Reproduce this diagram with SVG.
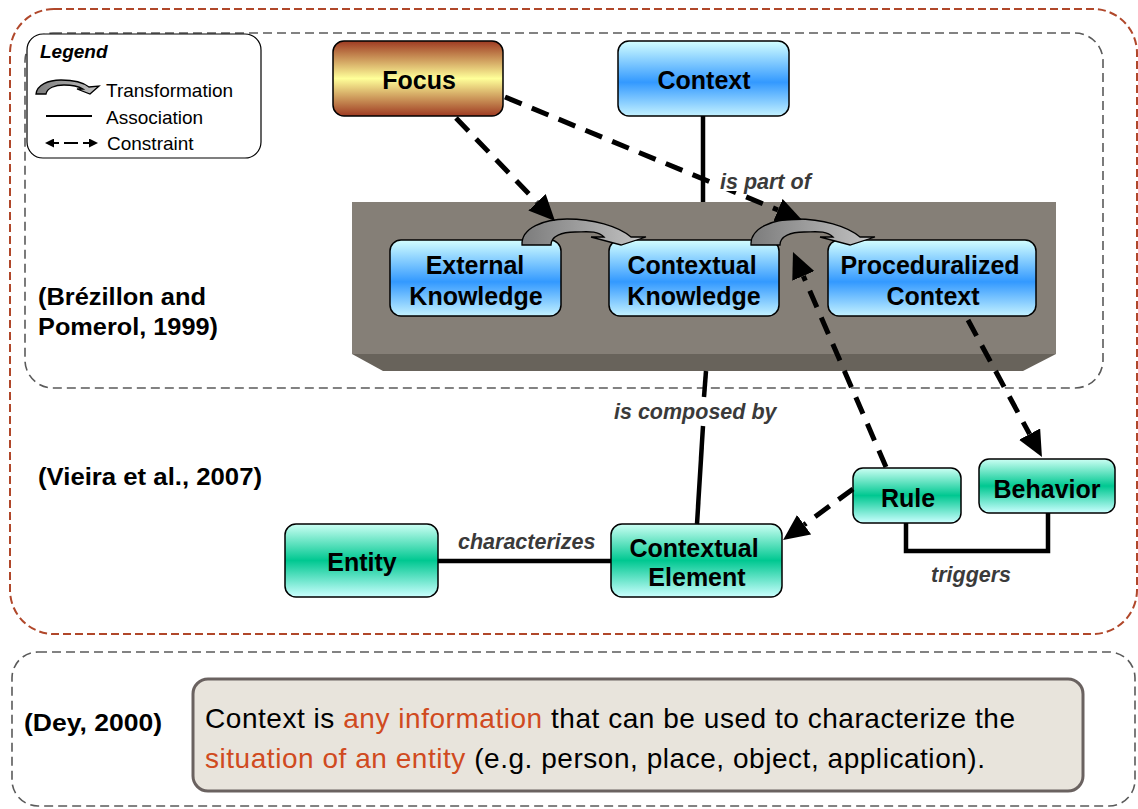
<svg xmlns="http://www.w3.org/2000/svg" width="1138" height="809" viewBox="0 0 1138 809">
  <defs>
    <linearGradient id="gFocus" x1="0" y1="0" x2="0" y2="1">
      <stop offset="0" stop-color="#9e3a22"/>
      <stop offset="0.5" stop-color="#ffff99"/>
      <stop offset="1" stop-color="#9e3a22"/>
    </linearGradient>
    <linearGradient id="gBlue" x1="0" y1="0" x2="0" y2="1">
      <stop offset="0" stop-color="#d4ffff"/>
      <stop offset="0.55" stop-color="#3399ff"/>
      <stop offset="1" stop-color="#c4f2ff"/>
    </linearGradient>
    <linearGradient id="gGreen" x1="0" y1="0" x2="0" y2="1">
      <stop offset="0" stop-color="#ccfff4"/>
      <stop offset="0.5" stop-color="#00c891"/>
      <stop offset="1" stop-color="#ccffff"/>
    </linearGradient>
    <linearGradient id="gTurn" x1="0" y1="0" x2="1" y2="0">
      <stop offset="0" stop-color="#7c7c7c"/>
      <stop offset="1" stop-color="#c4c4c4"/>
    </linearGradient>
    <marker id="head" viewBox="0 0 26 24" refX="0" refY="12" markerWidth="26" markerHeight="24" markerUnits="userSpaceOnUse" orient="auto">
      <path d="M0,0 L26,12 L0,24 Z" fill="#000"/>
    </marker>
    <marker id="headSmall" viewBox="0 0 10 10" refX="0" refY="5" markerWidth="9" markerHeight="9" markerUnits="userSpaceOnUse" orient="auto">
      <path d="M0,0 L10,5 L0,10 Z" fill="#000"/>
    </marker>
    <path id="turn" d="M522,245 C521,228 544,219 567,219 C593,219 618,226 631,237 L646,237 L621,245 L591,237 L604,237 C597,230 586,232 575,232 C562,232 551,236 551,245 Z"/>
    <style>
      .frame-red { fill: none; stroke: #b0472a; stroke-width: 2; stroke-dasharray: 8 4; }
      .frame-grey { fill: none; stroke: #5a5a5a; stroke-width: 1.6; stroke-dasharray: 9 5; }
      .node rect { stroke: #000; stroke-width: 1.5; }
      .node text { font-family: "Liberation Sans", Arial, sans-serif; font-weight: bold; font-size: 25px; fill: #000; text-anchor: middle; }
      .assoc { fill: none; stroke: #000; stroke-width: 4.5; }
      .constraint { fill: none; stroke: #000; stroke-width: 5; stroke-dasharray: 18 11; marker-end: url(#head); }
      .rel { font-family: "Liberation Sans", Arial, sans-serif; font-weight: bold; font-style: italic; font-size: 21.5px; fill: #3a3a3a; }
      .ref { font-family: "Liberation Sans", Arial, sans-serif; font-weight: bold; font-size: 24px; fill: #000; }
      .legend-text { font-family: "Liberation Sans", Arial, sans-serif; font-size: 19px; fill: #000; }
      .turn { fill: url(#gTurn); stroke: #000; stroke-width: 1.3; }
      .def { font-family: "Liberation Sans", Arial, sans-serif; font-size: 28px; fill: #000; }
      .hl { fill: #d04a20; }
    </style>
  </defs>

  <rect width="1138" height="809" fill="#fff"/>

  <!-- grouping frames -->
  <g id="frames">
    <rect class="frame-red" x="10" y="9" width="1127" height="625" rx="44"/>
    <rect class="frame-grey" x="25" y="33" width="1078" height="355" rx="28"/>
    <rect class="frame-grey" x="12" y="652" width="1123" height="154" rx="26"/>
  </g>

  <!-- legend -->
  <g id="legend">
    <rect x="27" y="34" width="234" height="124" rx="16" fill="#fff" stroke="#000" stroke-width="1.2"/>
    <text x="40" y="58" class="legend-text" font-weight="bold" font-style="italic">Legend</text>
    <path class="turn" d="M36,94 C37,85 48,80 61,80 C74,80 84,83 89,87 L99,86 L90,94 L77,89 L83,89 C78,86 71,85 64,85 C55,85 47,88 46,94 Z"/>
    <text x="106" y="97" class="legend-text">Transformation</text>
    <line x1="46" y1="116" x2="92" y2="116" stroke="#000" stroke-width="2"/>
    <text x="106" y="124" class="legend-text">Association</text>
    <line x1="71" y1="143" x2="54" y2="143" stroke="#000" stroke-width="2.2" stroke-dasharray="7 5" marker-end="url(#headSmall)"/>
    <line x1="71" y1="143" x2="89" y2="143" stroke="#000" stroke-width="2.2" stroke-dasharray="7 5" marker-end="url(#headSmall)"/>
    <text x="107" y="150" class="legend-text">Constraint</text>
  </g>

  <!-- source labels -->
  <g id="sources">
    <text x="38" y="305" class="ref" textLength="168" lengthAdjust="spacingAndGlyphs">(Brézillon and</text>
    <text x="38" y="335" class="ref" textLength="180" lengthAdjust="spacingAndGlyphs">Pomerol, 1999)</text>
    <text x="38" y="485" class="ref" textLength="224" lengthAdjust="spacingAndGlyphs">(Vieira et al., 2007)</text>
    <text x="24" y="731" class="ref" textLength="138" lengthAdjust="spacingAndGlyphs">(Dey, 2000)</text>
  </g>

  <!-- knowledge platform -->
  <g id="platform">
    <rect x="352" y="202" width="704" height="152" fill="#857f77"/>
    <path d="M352,354 L1056,354 L1023,371 L383,371 Z" fill="#68635b"/>
  </g>

  <!-- nodes -->
  <g id="focus" class="node">
    <rect x="333" y="41" width="170" height="75" rx="11" fill="url(#gFocus)"/>
    <text x="419" y="89">Focus</text>
  </g>
  <g id="context" class="node">
    <rect x="618" y="41" width="171" height="75" rx="11" fill="url(#gBlue)"/>
    <text x="704" y="89">Context</text>
  </g>
  <g id="external-knowledge" class="node">
    <rect x="390" y="240" width="171" height="76" rx="11" fill="url(#gBlue)"/>
    <text x="475" y="274">External</text>
    <text x="476" y="305">Knowledge</text>
  </g>
  <g id="contextual-knowledge" class="node">
    <rect x="609" y="240" width="170" height="76" rx="11" fill="url(#gBlue)"/>
    <text x="692" y="274">Contextual</text>
    <text x="694" y="305">Knowledge</text>
  </g>
  <g id="proceduralized-context" class="node">
    <rect x="828" y="240" width="208" height="76" rx="11" fill="url(#gBlue)"/>
    <text x="930" y="274">Proceduralized</text>
    <text x="933" y="305">Context</text>
  </g>
  <g id="entity" class="node">
    <rect x="285" y="524" width="153" height="73" rx="11" fill="url(#gGreen)"/>
    <text x="362" y="571">Entity</text>
  </g>
  <g id="contextual-element" class="node">
    <rect x="611" y="524" width="171" height="73" rx="11" fill="url(#gGreen)"/>
    <text x="694" y="557">Contextual</text>
    <text x="697" y="586">Element</text>
  </g>
  <g id="rule" class="node">
    <rect x="853" y="468" width="108" height="55" rx="10" fill="url(#gGreen)"/>
    <text x="908" y="507">Rule</text>
  </g>
  <g id="behavior" class="node">
    <rect x="979" y="459" width="136" height="54" rx="10" fill="url(#gGreen)"/>
    <text x="1047" y="498">Behavior</text>
  </g>

  <!-- transformations between knowledge kinds -->
  <g id="transformations">
    <use href="#turn" class="turn"/>
    <use href="#turn" class="turn" transform="translate(229,0)"/>
  </g>

  <!-- connectors -->
  <g id="connectors">
    <line class="assoc" x1="703" y1="116" x2="703" y2="202"/>
    <line class="assoc" x1="706" y1="371" x2="704" y2="397"/>
    <line class="assoc" x1="703" y1="426" x2="697" y2="524"/>
    <line class="assoc" x1="438" y1="561" x2="611" y2="561"/>
    <path class="assoc" d="M906,523 V551 H1048 V513"/>

    <line class="constraint" x1="456" y1="118" x2="537" y2="202.3"/>
    <line class="constraint" x1="505" y1="97" x2="778" y2="210"/>
    <line class="constraint" x1="886" y1="467" x2="803.3" y2="275.9"/>
    <line class="constraint" x1="968" y1="320" x2="1029.6" y2="434.1"/>
    <line class="constraint" x1="853" y1="489" x2="804.1" y2="524.7"/>

    <rect x="716" y="168" width="100" height="23" fill="#fff"/>
    <text x="720" y="189" class="rel">is part of</text>
    <text x="614" y="419" class="rel">is composed by</text>
    <text x="458" y="549" class="rel">characterizes</text>
    <text x="931" y="582" class="rel">triggers</text>
  </g>

  <!-- definition box -->
  <g id="definition">
    <rect x="193" y="679" width="890" height="112" rx="15" fill="#e8e4dc" stroke="#6a6260" stroke-width="3"/>
    <text x="205" y="728" class="def" textLength="810" lengthAdjust="spacing">Context is <tspan class="hl">any information</tspan> that can be used to characterize the</text>
    <text x="205" y="768" class="def" textLength="780" lengthAdjust="spacing"><tspan class="hl">situation of an entity</tspan> (e.g. person, place, object, application).</text>
  </g>
</svg>
